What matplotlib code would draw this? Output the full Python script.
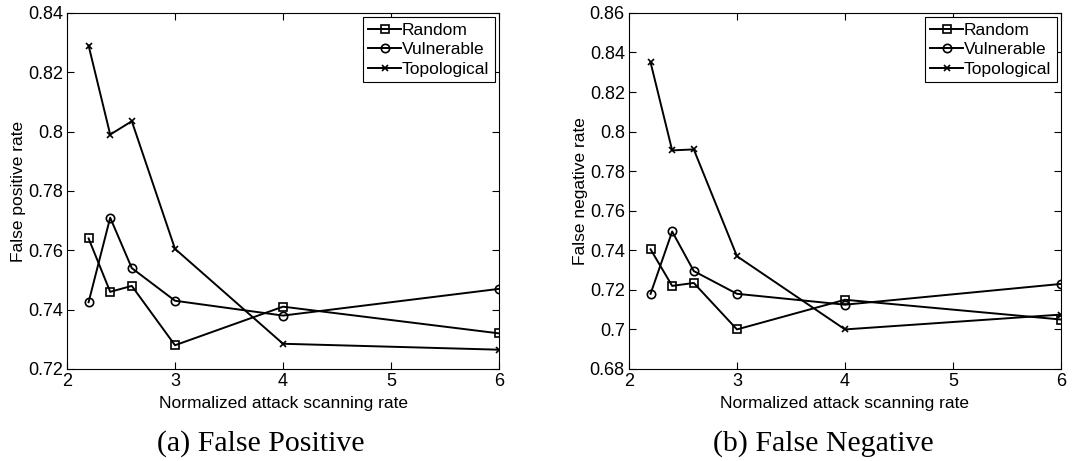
import matplotlib.pyplot as plt

x = [2.2, 2.4, 2.6, 3, 4, 6]

# (a) False positive
fp_random = [0.764, 0.746, 0.748, 0.728, 0.741, 0.732]
fp_vulnerable = [0.7425, 0.771, 0.754, 0.743, 0.738, 0.747]
fp_topological = [0.829, 0.799, 0.8035, 0.7605, 0.7285, 0.7265]

# (b) False negative
fn_random = [0.7405, 0.722, 0.7235, 0.700, 0.715, 0.705]
fn_vulnerable = [0.718, 0.7495, 0.7295, 0.718, 0.7125, 0.723]
fn_topological = [0.835, 0.7905, 0.791, 0.737, 0.700, 0.7075]

labels = ["Random", "Vulnerable", "Topological"]
markers = ["s", "o", "x"]

plt.rcParams["font.family"] = ["Liberation Sans", "DejaVu Sans"]

fig = plt.figure(figsize=(10.91, 4.61), dpi=100)
ax1 = fig.add_axes([0.0614, 0.1996, 0.396, 0.7724])
ax2 = fig.add_axes([0.5765, 0.1996, 0.396, 0.7724])

panels = [
    (ax1, [fp_random, fp_vulnerable, fp_topological], "False positive rate",
     (0.72, 0.84), [0.72, 0.74, 0.76, 0.78, 0.8, 0.82, 0.84], "(a) False Positive"),
    (ax2, [fn_random, fn_vulnerable, fn_topological], "False negative rate",
     (0.68, 0.86), [0.68, 0.7, 0.72, 0.74, 0.76, 0.78, 0.8, 0.82, 0.84, 0.86], "(b) False Negative"),
]

for ax, series, ylabel, ylim, yticks, caption in panels:
    for y, lab, m in zip(series, labels, markers):
        ms = 5 if m == "x" else 6
        ax.plot(x, y, color="black", lw=1.4, marker=m, ms=ms, mfc="none",
                mew=1.2, label=lab)
    ax.set_xlim(2, 6)
    ax.set_ylim(*ylim)
    ax.set_xticks([2, 3, 4, 5, 6])
    ax.set_xticklabels(["2", "3", "4", "5", "6"])
    ax.set_yticks(yticks)
    ax.set_yticklabels([("%g" % v) for v in yticks])
    ax.tick_params(direction="in", top=True, right=True, labelsize=13, length=5, pad=3)
    ax.set_xlabel("Normalized attack scanning rate", fontsize=12.5, labelpad=4)
    ax.set_ylabel(ylabel, fontsize=12.5, labelpad=1)
    for s in ax.spines.values():
        s.set_linewidth(0.8)
    leg = ax.legend(loc="upper right", fontsize=12.5, handlelength=1.9,
                    handletextpad=0.05, borderpad=0.3, labelspacing=0.25,
                    borderaxespad=0.25, fancybox=False, edgecolor="black",
                    framealpha=1)
    leg.get_frame().set_linewidth(0.8)
    ax.text(0.449, -0.172, caption, transform=ax.transAxes, ha="center", va="top",
            fontsize=21.5, family="Liberation Serif")

fig.savefig("out.png", dpi=100)
